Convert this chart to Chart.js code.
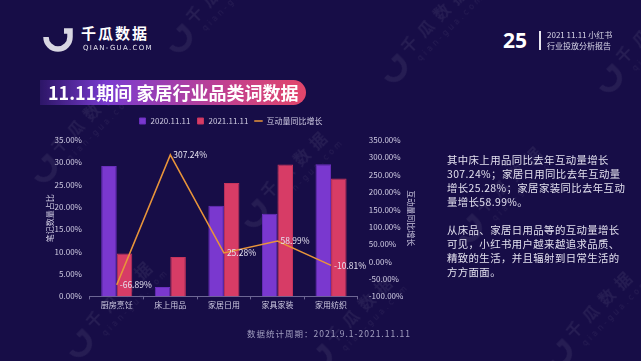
<!DOCTYPE html>
<html>
<head>
<meta charset="utf-8">
<script src="https://cdn.jsdelivr.net/npm/chart.js@4.4.0/dist/chart.umd.min.js"></script>
<style>
  html, body { margin: 0; padding: 0; }
  body { width: 641px; height: 361px; background: #170d47; position: relative; overflow: hidden;
         font-family: "Noto Sans CJK SC", "Noto Sans", sans-serif; color: #fff; }
  .abs { position: absolute; }
  #bg { position: absolute; left: 0; top: 0; }
  #banner { left: 40px; top: 80px; width: 266px; height: 25px; border-radius: 0 13px 13px 0;
            background: linear-gradient(90deg, rgba(110,50,200,0.25) 0%, #7a3cd0 25%, #c2418f 70%, #e2466a 100%); }
  #bannerText { left: 48px; top: 79px; font-size: 18px; font-weight: bold; white-space: nowrap; line-height: 26px; }
  #brand { left: 81px; top: 22px; font-size: 15px; font-weight: bold; letter-spacing: 2px; }
  #brandSub { left: 83px; top: 44px; font-size: 7px; letter-spacing: 1.3px; color: #e8e6f0; font-family: "DejaVu Sans", sans-serif; }
  #page { left: 503px; top: 26px; font-size: 21px; font-weight: bold; font-family: "Open Sans", sans-serif; }
  #pageLine { left: 539px; top: 31px; width: 1.5px; height: 19px; background: #e8e6f0; }
  #report { left: 547px; top: 29px; font-size: 8px; line-height: 11px; color: #dcdaea; white-space: nowrap; }
  #note { left: 447px; top: 153px; font-size: 10.4px; line-height: 14px; color: #e2e0ee; white-space: nowrap; letter-spacing: 0.4px; }
  #footer { left: 247px; top: 327px; font-size: 8.5px; color: #a29fc0; letter-spacing: 1px; white-space: nowrap; }
  #box { left: 30px; top: 109px; width: 400px; height: 202px; }
</style>
</head>
<body>
<svg id="bg" width="641" height="361" viewBox="0 0 641 361">
  <defs>
    <g id="wm">
      <path d="M -11 -2 A 11 11 0 0 0 11 -2 L 11 -8 L 5 -8" fill="none" stroke="#fff" stroke-width="5"/>
      <text x="20" y="-2" font-size="16" font-weight="bold" letter-spacing="7" fill="#fff" font-family="Noto Sans CJK SC">千瓜数据</text>
      <text x="24" y="12" font-size="8" letter-spacing="3" fill="#fff" font-family="DejaVu Sans">qian-gua.com</text>
    </g>
  </defs>
  <g opacity="0.07">
    <use href="#wm" transform="translate(180,40) rotate(-45)"/>
    <use href="#wm" transform="translate(395,70) rotate(-45)"/>
    <use href="#wm" transform="translate(610,80) rotate(-45)"/>
    <use href="#wm" transform="translate(45,170) rotate(-45)"/>
    <use href="#wm" transform="translate(255,215) rotate(-45)"/>
    <use href="#wm" transform="translate(470,230) rotate(-45)"/>
    <use href="#wm" transform="translate(80,345) rotate(-45)"/>
    <use href="#wm" transform="translate(320,360) rotate(-45)"/>
    <use href="#wm" transform="translate(560,355) rotate(-45)"/>
  </g>
  <path d="M 46 37 A 12 12 0 0 0 70 37 L 70 31 L 64 31" fill="none" stroke="#d8d6e2" stroke-width="5.5"/>
</svg>

<div id="brand" class="abs">千瓜数据</div>
<div id="brandSub" class="abs">QIAN-GUA.COM</div>
<div id="page" class="abs">25</div>
<div id="pageLine" class="abs"></div>
<div id="report" class="abs">2021 11.11 小红书<br>行业投放分析报告</div>

<div id="banner" class="abs"></div>
<div id="bannerText" class="abs">11.11期间 家居行业品类词数据</div>

<div id="box" class="abs"><canvas id="graph"></canvas></div>

<div id="note" class="abs">其中床上用品同比去年互动量增长<br>307.24%；家居日用同比去年互动量<br>增长25.28%；家居家装同比去年互动<br>量增长58.99%。<br><br>从床品、家居日用品等的互动量增长<br>可见，小红书用户越来越追求品质、<br>精致的生活，并且辐射到日常生活的<br>方方面面。</div>

<div id="footer" class="abs">数据统计周期：2021.9.1-2021.11.11</div>

<script>
// categories et valeurs
const categories = ["厨房烹饪", "床上用品", "家居日用", "家具家装", "家用纺织"];
const part2020 = [29.2, 2.1, 20.3, 18.5, 29.6];
const part2021 = [9.6, 8.8, 25.4, 29.5, 26.4];
const croissance = [-66.89, 307.24, 25.28, 58.99, -10.81];
const labelsSeries = ["2020.11.11", "2021.11.11", "互动量同比增长"];

const tickColor = "#cfcbe2";
const fontFam = '"Noto Sans CJK SC", "Noto Sans", sans-serif';

// etiquettes de la courbe
const lineLabels = {
    id: "lineLabels",
    afterDatasetsDraw(chart) {
        const ctx = chart.ctx;
        const meta = chart.getDatasetMeta(2);
        ctx.save();
        ctx.font = "8.5px " + fontFam;
        ctx.fillStyle = "#e6e2f0";
        ctx.textAlign = "left";
        ctx.textBaseline = "middle";
        meta.data.forEach((pt, i) => {
            ctx.fillText(croissance[i].toFixed(2) + "%", pt.x + 3, pt.y);
        });
        ctx.restore();
    }
};

// un peu d'espace sous la legende
const legendGap = {
    id: "legendGap",
    beforeInit(chart) {
        const fitOrig = chart.legend.fit;
        chart.legend.fit = function () {
            fitOrig.bind(chart.legend)();
            this.height += 5;
        };
    }
};

const ctx = document.getElementById("graph").getContext("2d");
const chart = new Chart(ctx, {
    type: "bar",
    data: {
        labels: categories,
        datasets: [{
            label: labelsSeries[0],
            data: part2020,
            backgroundColor: "#7a38cf",
            borderColor: "#6a2fbd",
            borderWidth: 1,
            pointStyle: "rect",
            yAxisID: "y",
            order: 2
        }, {
            label: labelsSeries[1],
            data: part2021,
            backgroundColor: "#d73c66",
            borderColor: "#c5345c",
            borderWidth: 1,
            pointStyle: "rect",
            yAxisID: "y",
            order: 2
        }, {
            type: "line",
            label: labelsSeries[2],
            data: croissance,
            borderColor: "#e8943a",
            backgroundColor: "#e8943a",
            borderWidth: 1.5,
            pointRadius: 0,
            pointStyle: "line",
            tension: 0,
            yAxisID: "y1",
            order: 1
        }]
    },
    options: {
        responsive: true,
        maintainAspectRatio: false,
        animation: false,
        datasets: { bar: { categoryPercentage: 0.58, barPercentage: 1.0 } },
        layout: { padding: { left: 15, right: 14, top: 2, bottom: 0 } },
        plugins: {
            tooltip: { enabled: false },
            legend: {
                position: "top",
                labels: {
                    color: tickColor,
                    font: { size: 8, family: fontFam },
                    usePointStyle: true,
                    boxWidth: 8,
                    boxHeight: 6,
                    padding: 6,
                    sort: (a, b) => a.datasetIndex - b.datasetIndex
                }
            }
        },
        scales: {
            x: {
                grid: { display: true, drawOnChartArea: false, offset: true, color: "#6c6694", tickLength: 3 },
                border: { color: "#6c6694" },
                ticks: { color: tickColor, font: { size: 8, family: fontFam }, padding: 1 }
            },
            y: {
                position: "left",
                min: 0,
                max: 35,
                grid: { display: false },
                border: { display: false },
                ticks: { stepSize: 5, padding: 0, color: tickColor, font: { size: 8, family: fontFam },
                         callback: v => v.toFixed(2) + "%" },
                title: { display: true, text: "笔记数量占比", padding: 0, color: tickColor, font: { size: 8, family: fontFam } }
            },
            y1: {
                position: "right",
                min: -100,
                max: 350,
                grid: { display: false },
                border: { display: false },
                ticks: { stepSize: 50, color: tickColor, font: { size: 8, family: fontFam },
                         callback: v => v.toFixed(2) + "%" },
                title: { display: true, text: "互动量同比增长", padding: 0, color: tickColor, font: { size: 8, family: fontFam } }
            }
        }
    },
    plugins: [lineLabels, legendGap]
});
</script>
</body>
</html>
